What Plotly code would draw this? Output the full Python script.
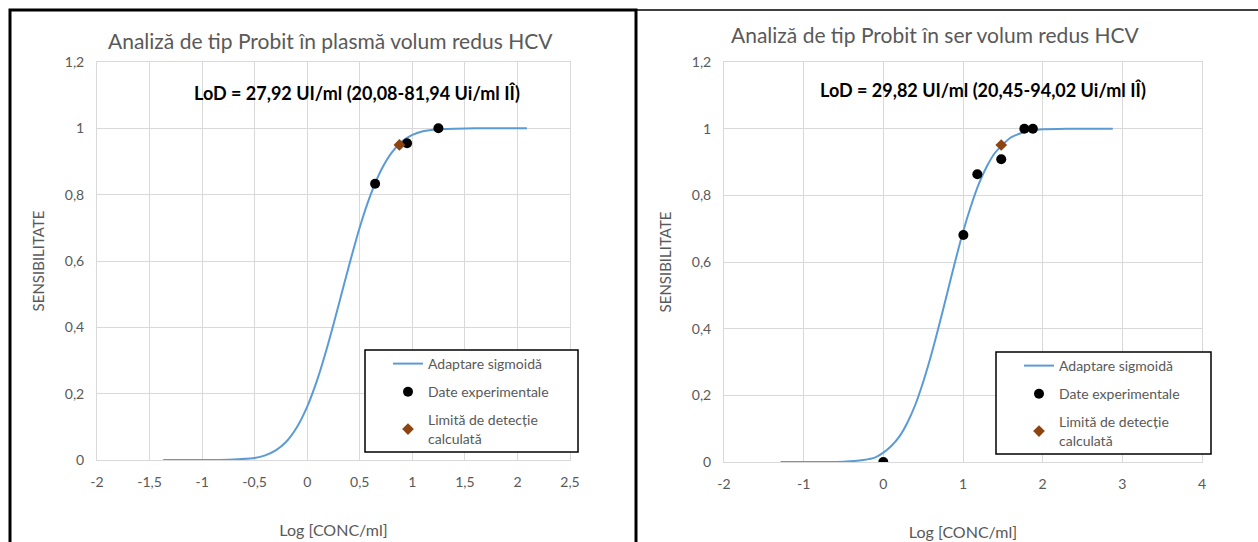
import plotly.graph_objects as go

W, H = 1258, 542

# ---- Plasma panel data ----
plasma_curve_x = [-1.37, -1.0, -0.75, -0.5, -0.4, -0.3, -0.2, -0.1, 0.0, 0.1, 0.2, 0.3,
                  0.4, 0.5, 0.6, 0.7, 0.8, 0.9, 1.0, 1.1, 1.2, 1.4, 1.6, 1.8, 2.09]
plasma_curve_y = [0.0, 0.0, 0.001, 0.006, 0.014, 0.029, 0.055, 0.098, 0.161, 0.246, 0.351, 0.469,
                  0.589, 0.702, 0.797, 0.872, 0.925, 0.960, 0.980, 0.991, 0.996, 0.999, 1.0, 1.0, 1.0]
plasma_x = [0.646, 0.95, 1.248]
plasma_y = [0.833, 0.955, 1.0]
plasma_lod_x = [0.877]
plasma_lod_y = [0.95]
plasma_xticks = [-2, -1.5, -1, -0.5, 0, 0.5, 1, 1.5, 2, 2.5]
plasma_xtick_labels = ["-2", "-1,5", "-1", "-0,5", "0", "0,5", "1", "1,5", "2", "2,5"]

# ---- Serum panel data ----
ser_curve_x = [-1.29, -1.0, -0.5, -0.25, -0.1, 0.0, 0.1, 0.2, 0.3, 0.4, 0.5, 0.6, 0.7, 0.8,
               0.9, 1.0, 1.1, 1.2, 1.3, 1.4, 1.6, 1.8, 2.0, 2.3, 2.88]
ser_curve_y = [0.0, 0.0, 0.001, 0.006, 0.014, 0.028, 0.048, 0.076, 0.117, 0.171, 0.24, 0.32,
               0.41, 0.505, 0.60, 0.69, 0.768, 0.835, 0.887, 0.927, 0.9735, 0.992, 0.998,
               0.9999, 1.0]
ser_x = [0.0, 1.005, 1.18, 1.48, 1.77, 1.877]
ser_y = [0.0, 0.681, 0.863, 0.908, 1.0, 1.0]
ser_lod_x = [1.48]
ser_lod_y = [0.951]
ser_xticks = [-2, -1, 0, 1, 2, 3, 4]
ser_xtick_labels = ["-2", "-1", "0", "1", "2", "3", "4"]

yticks = [0, 0.2, 0.4, 0.6, 0.8, 1.0, 1.2]
ytick_labels = ["0", "0,2", "0,4", "0,6", "0,8", "1", "1,2"]

titles = ["Analiză de tip Probit în plasmă volum redus HCV",
          "Analiză de tip Probit în ser volum redus HCV"]
lod_texts = ["LoD = 27,92 UI/ml (20,08-81,94 Ui/ml IÎ)",
             "LoD = 29,82 UI/ml (20,45-94,02 Ui/ml IÎ)"]
name_fit = "Adaptare sigmoidă"
name_data = "Date experimentale"
name_lod = "Limită de detecție<br>calculată"

FONT = "Lato, 'Open Sans', sans-serif"
GREY = "#595959"
GRID = "#d9d9d9"
BLUE = "#5B9BD5"
BROWN = "#8E4410"


def px(x):
    return x / W


def py(y):
    return 1 - y / H


fig = go.Figure()

panels = [
    (plasma_curve_x, plasma_curve_y, plasma_x, plasma_y, plasma_lod_x, plasma_lod_y, "x", "y", "legend"),
    (ser_curve_x, ser_curve_y, ser_x, ser_y, ser_lod_x, ser_lod_y, "x2", "y2", "legend2"),
]
for cx, cy, dx, dy, lx, ly, xa, ya, lg in panels:
    fig.add_trace(go.Scatter(x=cx, y=cy, mode="lines", name=name_fit, xaxis=xa, yaxis=ya,
                             line=dict(color=BLUE, width=2, shape="spline", smoothing=0.6),
                             legend=lg, legendgroup=lg + "a"))
    fig.add_trace(go.Scatter(x=dx, y=dy, mode="markers", name=name_data, xaxis=xa, yaxis=ya,
                             marker=dict(color="black", size=10, symbol="circle"),
                             legend=lg, legendgroup=lg + "b"))
    fig.add_trace(go.Scatter(x=lx, y=ly, mode="markers", name=name_lod, xaxis=xa, yaxis=ya,
                             marker=dict(color=BROWN, size=9, symbol="diamond"),
                             legend=lg, legendgroup=lg + "c"))

axis_common = dict(showgrid=True, gridcolor=GRID, gridwidth=1, zeroline=False,
                   showline=True, linecolor=GRID, linewidth=1, mirror=True,
                   ticks="", tickfont=dict(family=FONT, size=14, color=GREY),
                   tickmode="array",
                   title_font=dict(family=FONT, size=16, color=GREY))

legend_common = dict(bgcolor="rgba(0,0,0,0)", borderwidth=0,
                     font=dict(family=FONT, size=14, color=GREY),
                     xanchor="left", yanchor="top", tracegroupgap=7,
                     itemwidth=30)

fig.update_layout(
    width=W, height=H,
    margin=dict(l=0, r=0, t=0, b=0, autoexpand=False),
    paper_bgcolor="white", plot_bgcolor="white",
    separators=",.",
    font=dict(family=FONT, color=GREY),
    xaxis=dict(axis_common, domain=[px(97), px(570)], range=[-2, 2.5],
               tickvals=plasma_xticks, ticktext=plasma_xtick_labels, ticklabelstandoff=9,
               anchor="y", title=dict(text="Log [CONC/ml]", standoff=36)),
    yaxis=dict(axis_common, domain=[py(460), py(62)], range=[0, 1.2],
               tickvals=yticks, ticktext=ytick_labels, ticklabelstandoff=9,
               anchor="x", title=dict(text="SENSIBILITATE", standoff=16, font=dict(size=15))),
    xaxis2=dict(axis_common, domain=[px(724), px(1202)], range=[-2, 4],
                tickvals=ser_xticks, ticktext=ser_xtick_labels, ticklabelstandoff=9,
                anchor="y2", title=dict(text="Log [CONC/ml]", standoff=36)),
    yaxis2=dict(axis_common, domain=[py(462), py(62)], range=[0, 1.2],
                tickvals=yticks, ticktext=ytick_labels, ticklabelstandoff=9,
                anchor="x2", title=dict(text="SENSIBILITATE", standoff=16, font=dict(size=15))),
    legend=dict(legend_common, x=px(388), y=py(348)),
    legend2=dict(legend_common, x=px(1019), y=py(350)),
)

# legend frames (white boxes behind the legend entries)
for x0, x1, y0, y1 in [(365, 578, 350, 452), (996, 1211, 352, 454)]:
    fig.add_shape(type="rect", xref="paper", yref="paper", layer="above",
                  x0=px(x0), x1=px(x1), y0=py(y1), y1=py(y0),
                  line=dict(color="black", width=1.5), fillcolor="white")

# chart titles and LoD captions
for tx, ty, text in [(330, 40, titles[0]), (935, 34, titles[1])]:
    fig.add_annotation(x=px(tx), y=py(ty), xref="paper", yref="paper", text=text,
                       showarrow=False, xanchor="center", yanchor="middle",
                       font=dict(family=FONT, size=21, color=GREY))
for tx, ty, text in [(357, 93, lod_texts[0]), (983, 90, lod_texts[1])]:
    fig.add_annotation(x=px(tx), y=py(ty), xref="paper", yref="paper", text="<b>" + text + "</b>",
                       showarrow=False, xanchor="center", yanchor="middle",
                       font=dict(family=FONT, size=18, color="black"))

# panel frames
fig.add_shape(type="rect", xref="paper", yref="paper",
              x0=px(10), x1=px(636), y0=py(600), y1=py(10),
              line=dict(color="black", width=3), fillcolor="rgba(0,0,0,0)")
fig.add_shape(type="line", xref="paper", yref="paper",
              x0=px(636), x1=px(1258), y0=py(10), y1=py(10),
              line=dict(color="black", width=1.5))

fig.write_html("out.html")
